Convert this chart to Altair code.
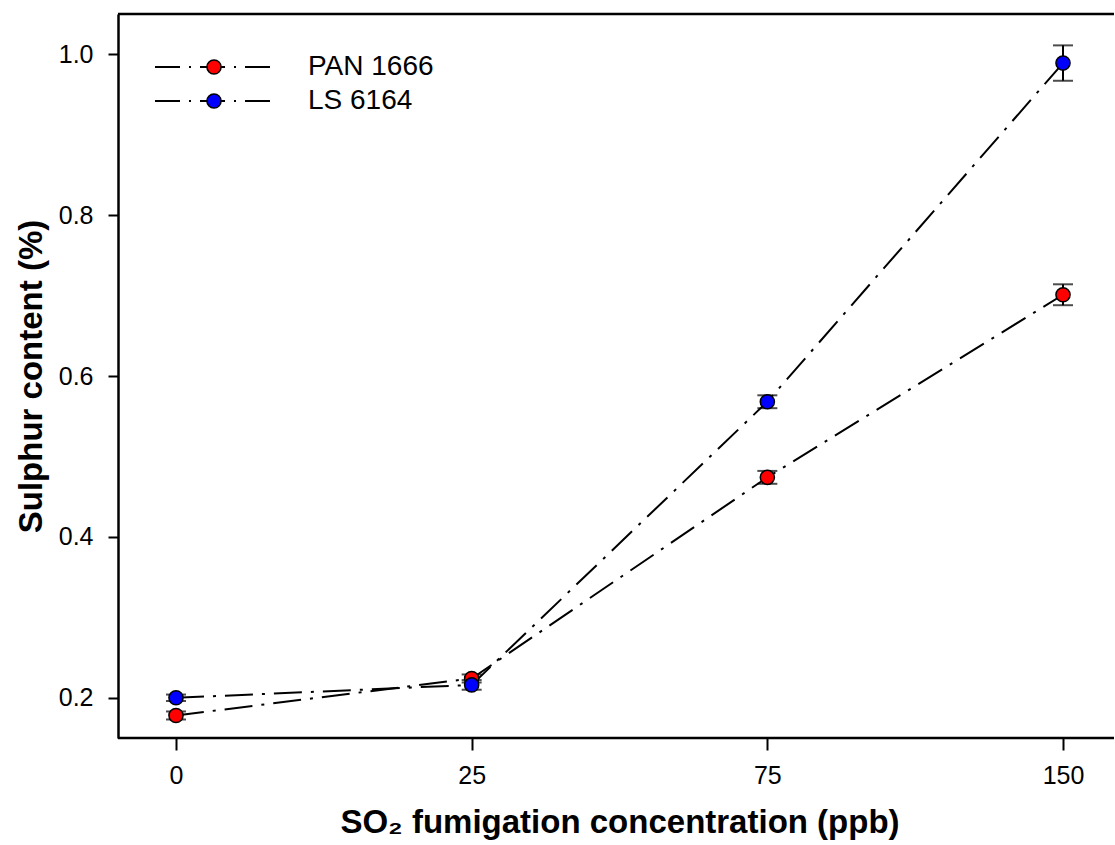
import altair as alt
import pandas as pd

doses = ["0", "25", "75", "150"]
series = ["PAN 1666", "LS 6164"]
colors = ["#ff0000", "#0000ff"]
pan_vals = [0.178, 0.224, 0.474, 0.701]
pan_err = [0.005, 0.005, 0.008, 0.013]
ls_vals = [0.200, 0.216, 0.568, 0.989]
ls_err = [0.004, 0.006, 0.008, 0.022]

rows = []
for d, v, e in zip(doses, pan_vals, pan_err):
    rows.append({"dose": d, "series": series[0], "val": v, "lo": v - e, "hi": v + e})
for d, v, e in zip(doses, ls_vals, ls_err):
    rows.append({"dose": d, "series": series[1], "val": v, "lo": v - e, "hi": v + e})
df = pd.DataFrame(rows)

W, H = 996, 724
dash = [28, 9, 3, 9]

xenc = alt.X("dose:O", scale=alt.Scale(domain=doses, type="point", range=[58, 945], padding=0),
             axis=alt.Axis(title="SO₂ fumigation concentration (ppb)", labelAngle=0, domain=False,
                           tickSize=12, labelPadding=13, titlePadding=18))
yscale = alt.Scale(domain=[0.15, 1.05], nice=False, zero=False)
yaxis = alt.Axis(title="Sulphur content (%)", values=[0.2, 0.4, 0.6, 0.8, 1.0], format=".1f",
                 tickSize=10, labelPadding=15, titlePadding=10)
cscale = alt.Scale(domain=series, range=colors)

base = alt.Chart(df)

err_rule = base.mark_rule(color="black", strokeWidth=2).encode(
    x=xenc, y=alt.Y("lo:Q", scale=yscale, axis=yaxis), y2="hi:Q", detail="series:N")
cap_lo = base.mark_tick(color="black", size=20, thickness=2).encode(
    x=xenc, y=alt.Y("lo:Q", scale=yscale))
cap_hi = base.mark_tick(color="black", size=20, thickness=2).encode(
    x=xenc, y=alt.Y("hi:Q", scale=yscale))

lines = base.mark_line(color="black", strokeWidth=2, strokeDash=dash).encode(
    x=xenc, y=alt.Y("val:Q", scale=yscale, axis=yaxis), detail="series:N")
points = base.mark_point(filled=True, shape="circle", size=200, stroke="black",
                         strokeWidth=1.5, opacity=1).encode(
    x=xenc, y=alt.Y("val:Q", scale=yscale),
    fill=alt.Fill("series:N", scale=cscale, legend=None))

one = alt.Data(values=[{"a": 1}])
top_line = alt.Chart(one).mark_rule(color="black", strokeWidth=2.5).encode(
    x=alt.value(0), x2=alt.value(W), y=alt.value(0))
bottom_line = alt.Chart(one).mark_rule(color="black", strokeWidth=2.5).encode(
    x=alt.value(0), x2=alt.value(W), y=alt.value(H))

legend_layers = []
leg_y = [53, 87]
for name, col, yy in zip(series, colors, leg_y):
    legend_layers.append(alt.Chart(one).mark_rule(color="black", strokeWidth=2, strokeDash=[25, 9, 2, 9]).encode(
        x=alt.value(37), x2=alt.value(152), y=alt.value(yy)))
    legend_layers.append(alt.Chart(one).mark_point(filled=True, shape="circle", size=200, fill=col,
                                                   stroke="black", strokeWidth=1.5, opacity=1).encode(
        x=alt.value(96), y=alt.value(yy)))
    legend_layers.append(alt.Chart(one).mark_text(text=name, align="left", baseline="middle",
                                                  font="Liberation Sans", fontSize=28, color="black").encode(
        x=alt.value(190), y=alt.value(yy)))

chart = alt.layer(err_rule, cap_lo, cap_hi, lines, points, top_line, bottom_line, *legend_layers).properties(
    width=W, height=H,
    autosize=alt.AutoSizeParams(type="none"),
    padding={"left": 118, "top": 14, "right": 1, "bottom": 107},
).configure_view(stroke=None).configure_axis(
    domainColor="black", domainWidth=2.5, tickColor="black", tickWidth=2, grid=False,
    labelFont="Liberation Sans", labelFontSize=25, labelColor="black",
    titleFont="Liberation Sans", titleFontSize=33, titleFontWeight="bold", titleColor="black",
)

chart.save("out.html", embed_options={"renderer": "svg", "actions": False})
